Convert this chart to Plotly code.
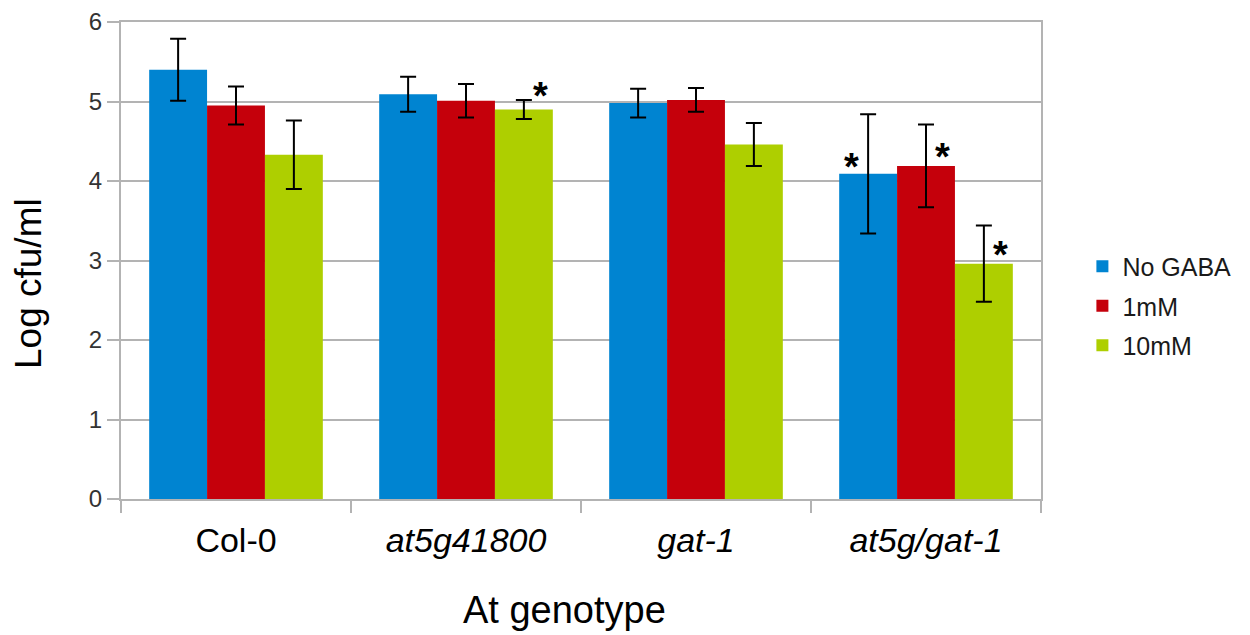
import plotly.graph_objects as go

categories = ["Col-0", "<i>at5g41800</i>", "<i>gat-1</i>", "<i>at5g/gat-1</i>"]
series_names = ["No GABA", "1mM", "10mM"]
no_gaba = [5.40, 5.09, 4.98, 4.09]
no_gaba_err = [0.39, 0.22, 0.18, 0.75]
mm1 = [4.95, 5.01, 5.02, 4.19]
mm1_err = [0.24, 0.21, 0.15, 0.52]
mm10 = [4.33, 4.90, 4.46, 2.96]
mm10_err = [0.43, 0.12, 0.27, 0.48]
colors = ["#0084d1", "#c5000b", "#aecf00"]

# significance markers: (category index, y value, pixel shift from category centre)
star_cat = [1, 3, 3, 3]
star_y = [5.17, 4.28, 4.40, 3.17]
star_shift = [74, -75, 16, 74]

fig = go.Figure()
for name, vals, errs, col in zip(series_names, [no_gaba, mm1, mm10],
                                 [no_gaba_err, mm1_err, mm10_err], colors):
    fig.add_trace(go.Bar(
        x=categories, y=vals, name=name, legendgroup=name,
        marker_color=col, marker_line_width=0,
        error_y=dict(type="data", array=errs, color="black", thickness=2, width=8),
    ))

for ci, yv, sh in zip(star_cat, star_y, star_shift):
    fig.add_annotation(x=categories[ci], y=yv, text="<b>*</b>", showarrow=False,
                       xshift=sh, yshift=-8, font=dict(size=38, color="black",
                                                      family="Liberation Sans"))

# axis titles placed as annotations
fig.add_annotation(xref="paper", yref="paper", x=(28 - 121) / 920, y=(499 - 284) / 477,
                   text="Log cfu/ml", textangle=-90, showarrow=False,
                   xanchor="center", yanchor="middle",
                   font=dict(size=37, color="black", family="Liberation Sans"))
fig.add_annotation(xref="paper", yref="paper", x=(564 - 121) / 920, y=-(610 - 499) / 477,
                   text="At genotype", showarrow=False,
                   xanchor="center", yanchor="middle",
                   font=dict(size=38, color="black", family="Liberation Sans"))

fig.update_layout(
    width=1250, height=635,
    margin=dict(l=121, r=209, t=22, b=136, autoexpand=False),
    paper_bgcolor="white", plot_bgcolor="white",
    barmode="group", bargap=0.245, bargroupgap=0,
    font=dict(family="Liberation Sans, Arial", color="black"),
    legend=dict(x=1.045, y=(499 - 306) / 477, xanchor="left", yanchor="middle",
                font=dict(size=25, color="#1a1a1a"), itemwidth=30,
                tracegroupgap=4),
    showlegend=True,
)
fig.update_xaxes(
    showline=True, linecolor="#b3b3b3", linewidth=2, mirror=True, automargin=False,
    ticks="outside", tickson="boundaries", ticklen=12, tickcolor="#b3b3b3",
    tickwidth=2, tickfont=dict(size=34, color="black"), ticklabelstandoff=10,
)
fig.update_yaxes(
    range=[0, 6], dtick=1, showgrid=True, gridcolor="#b3b3b3", gridwidth=2,
    showline=True, linecolor="#b3b3b3", linewidth=2, mirror=True, automargin=False,
    ticks="outside", ticklen=12, tickcolor="#b3b3b3", tickwidth=2,
    tickfont=dict(size=24, color="#333333"), zeroline=False,
)

fig.write_html("out.html")
